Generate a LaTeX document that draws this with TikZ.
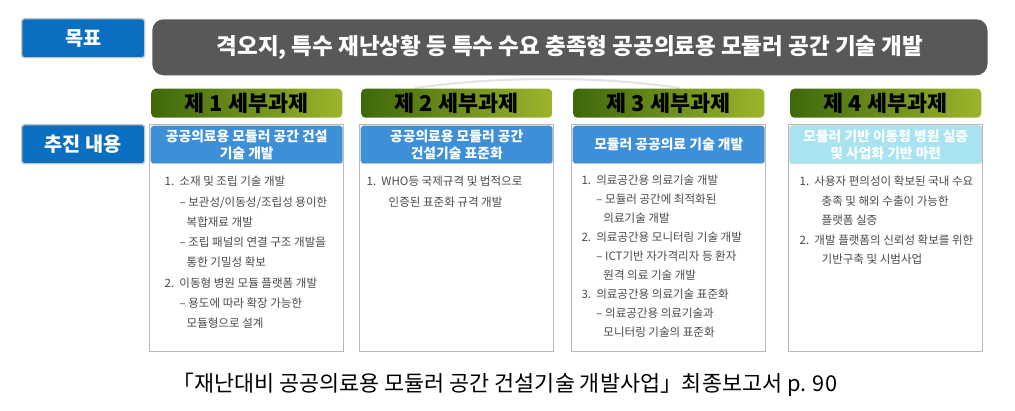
\documentclass[tikz,border=0pt]{standalone}
\usepackage{fontspec}
\setmainfont{Noto Sans CJK KR}
\usetikzlibrary{positioning}
\definecolor{tagblue}{HTML}{0B6FC1}
\definecolor{goalgray}{HTML}{585858}
\definecolor{darkgreen}{HTML}{3E680B}
\definecolor{lightgreen}{HTML}{9CB52B}
\definecolor{subblue}{HTML}{3D8FD8}
\definecolor{subcyan}{HTML}{A7E3F0}
\definecolor{bodygray}{HTML}{4A4A4A}
\newcommand{\subline}{\hspace*{10.6pt}– }
\newcommand{\contline}{\hspace*{15.6pt}}
\tikzset{
  tagbox/.style={draw=gray!45, line width=1pt, fill=tagblue, rounded corners=2pt,
    minimum width=3.075cm, minimum height=0.975cm, inner sep=0pt,
    text=white, font=\fontsize{14}{16}\selectfont\bfseries},
  goalbox/.style={fill=goalgray, rounded corners=8pt,
    minimum width=20.875cm, minimum height=1.4cm, inner sep=0pt,
    text=white, font=\fontsize{16}{18}\selectfont\bfseries},
  taskhead/.style={left color=darkgreen, right color=lightgreen, rounded corners=3pt,
    minimum width=4.775cm, minimum height=0.725cm, inner sep=0pt,
    font=\fontsize{15.5}{17}\selectfont\bfseries},
  itembox/.style={draw=gray!55, line width=1pt, fill=white,
    minimum width=4.85cm, minimum height=5.675cm, inner sep=0pt},
  subhead/.style={draw=gray!35, fill=subblue, rounded corners=2pt,
    minimum width=4.8cm, minimum height=0.95cm, inner sep=0pt, align=center,
    text=white, font=\fontsize{9.8}{12}\selectfont\bfseries},
  itemtext/.style={anchor=north west, inner sep=0pt, align=left, text=bodygray,
    font=\fontsize{8.2}{14.4}\selectfont}
}
\begin{document}
\begin{tikzpicture}[x=0.025cm, y=-0.025cm]
  \useasboundingbox (0,0) rectangle (1015,411);
  \node[tagbox, anchor=north west] (goaltag) at (21,18) {목표};
  \node[goalbox, anchor=north west] (goal) at (152,19)
    {격오지, 특수 재난상황 등 특수 수요 충족형 공공의료용 모듈러 공간 기술 개발};
  \draw[gray!22, line width=1.5pt] (415,88) .. controls (500,76) and (600,76) .. (680,88);
  \node[tagbox, anchor=north west] (worktag) at (21,124) {추진 내용};

  \node[itembox, anchor=north west] (box1) at (149,124) {};
  \node[itembox, anchor=north west] (box2) at (359,124) {};
  \node[itembox, anchor=north west] (box3) at (571,124) {};
  \node[itembox, anchor=north west] (box4) at (788,124) {};

  \node[taskhead, above=0.15cm of box1] (head1) {제 1 세부과제};
  \node[taskhead, above=0.15cm of box2] (head2) {제 2 세부과제};
  \node[taskhead, above=0.15cm of box3] (head3) {제 3 세부과제};
  \node[taskhead, above=0.15cm of box4] (head4) {제 4 세부과제};

  \node[subhead, anchor=north] (sub1) at ([yshift=-1pt]box1.north) {공공의료용 모듈러 공간 건설\\기술 개발};
  \node[subhead, anchor=north] (sub2) at ([yshift=-1pt]box2.north) {공공의료용 모듈러 공간\\건설기술 표준화};
  \node[subhead, anchor=north] (sub3) at ([yshift=-1pt]box3.north) {모듈러 공공의료 기술 개발};
  \node[subhead, anchor=north, fill=subcyan] (sub4) at ([yshift=-1pt]box4.north) {모듈러 기반 이동형 병원 실증\\및 사업화 기반 마련};

  \node[itemtext] (text1) at ([xshift=0.35cm, yshift=-0.3cm]sub1.south west) {%
    1.~~소재 및 조립 기술 개발\\
    \subline 보관성/이동성/조립성 용이한\\
    \contline 복합재료 개발\\
    \subline 조립 패널의 연결 구조 개발을\\
    \contline 통한 기밀성 확보\\
    2.~~이동형 병원 모듈 플랫폼 개발\\
    \subline 용도에 따라 확장 가능한\\
    \contline 모듈형으로 설계};
  \node[itemtext] (text2) at ([xshift=0.15cm, yshift=-0.3cm]sub2.south west) {%
    1.~~WHO등 국제규격 및 법적으로\\
    \contline 인증된 표준화 규격 개발};
  \node[itemtext, font=\fontsize{8.2}{13.5}\selectfont] (text3) at ([xshift=0.22cm, yshift=-0.28cm]sub3.south west) {%
    1.~~의료공간용 의료기술 개발\\
    \subline 모듈러 공간에 최적화된\\
    \contline 의료기술 개발\\
    2.~~의료공간용 모니터링 기술 개발\\
    \subline ICT기반 자가격리자 등 환자\\
    \contline 원격 의료 기술 개발\\
    3.~~의료공간용 의료기술 표준화\\
    \subline 의료공간용 의료기술과\\
    \contline 모니터링 기술의 표준화};
  \node[itemtext, font=\fontsize{8.2}{13.8}\selectfont] (text4) at ([xshift=0.25cm, yshift=-0.3cm]sub4.south west) {%
    1.~~사용자 편의성이 확보된 국내 수요\\
    \contline 충족 및 해외 수출이 가능한\\
    \contline 플랫폼 실증\\
    2.~~개발 플랫폼의 신뢰성 확보를 위한\\
    \contline 기반구축 및 시범사업};

  \node[font=\fontsize{15.5}{18}\selectfont] (caption) at (505,385)
    {「재난대비 공공의료용 모듈러 공간 건설기술 개발사업」최종보고서 p. 90};
\end{tikzpicture}
\end{document}
